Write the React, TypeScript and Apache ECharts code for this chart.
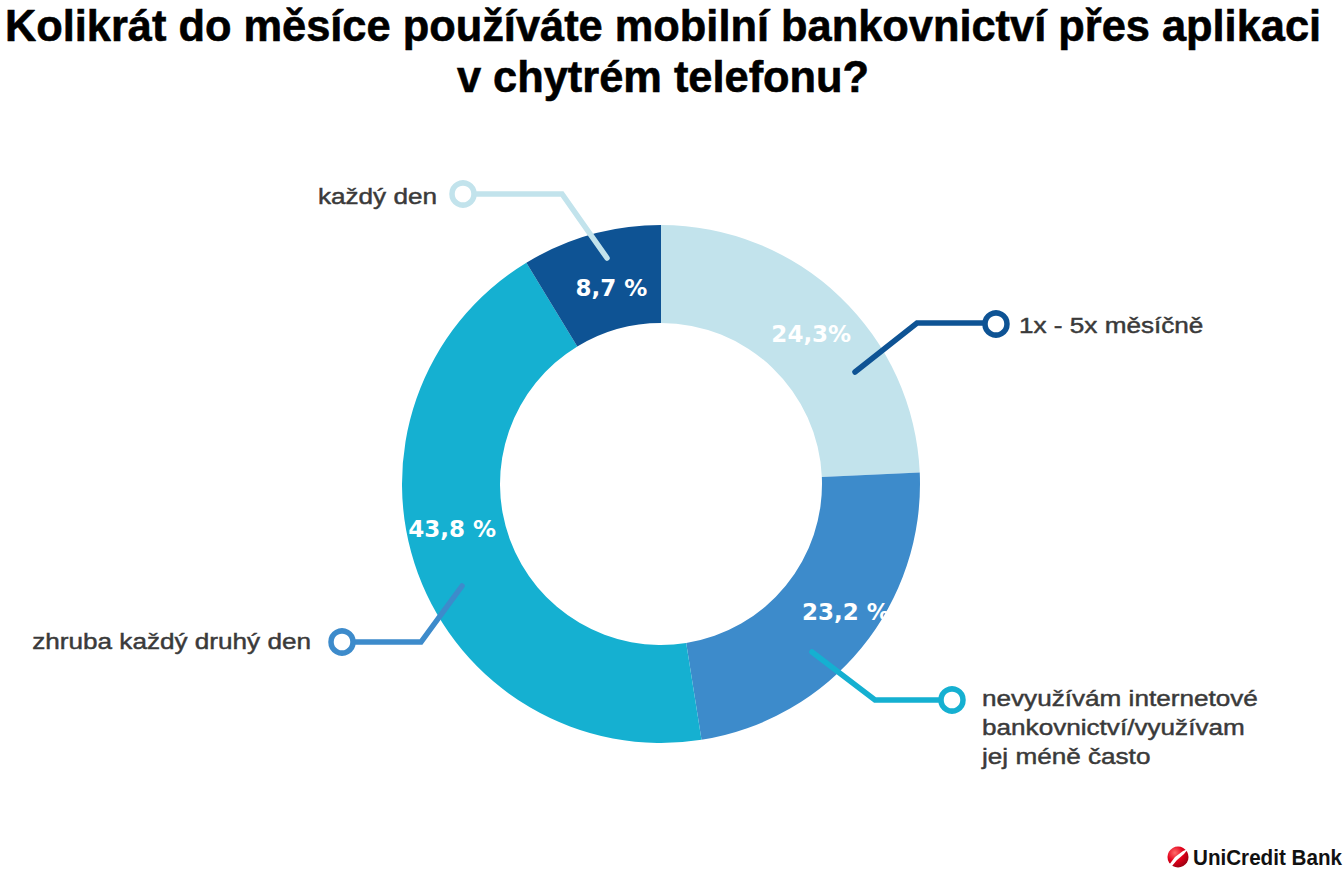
import React, { useEffect, useRef } from "react";
import * as echarts from "echarts";

// ---- data ----
const TITLE_LINES = [
  "Kolikrát do měsíce používáte mobilní bankovnictví přes aplikaci",
  "v chytrém telefonu?",
];
const CATEGORIES = [
  "1x - 5x měsíčně",
  "nevyužívám internetové\nbankovnictví/využívam\njej méně často",
  "zhruba každý druhý den",
  "každý den",
];
const VALUES = [24.3, 23.2, 43.8, 8.7];
const PCT_SUFFIX = ["%", " %", " %", " %"];
const SLICE_COLORS = ["#C2E3EC", "#3D8BCB", "#15B0D1", "#0E5394"];
const CALLOUT_COLORS = ["#0E5394", "#15B0D1", "#3D8BCB", "#C2E3EC"];
const BRAND = "UniCredit Bank";

// ---- layout (annotation geometry, px) ----
const CENTER = [661, 484];
const RADII = [161, 259];
const LABEL_NUDGE = [
  [3, 4],
  [20, -7],
  [-9, -28],
  [8, 9],
];
const CALLOUTS = [
  { pts: [[855, 372], [917, 323], [996, 323]], ring: [996, 324], tx: 1019, ty: 325, align: "left" },
  { pts: [[812, 652], [875, 700], [952, 700]], ring: [952, 700], tx: 982, ty: 727, align: "left" },
  { pts: [[462, 586], [421, 642], [342, 642]], ring: [342, 642], tx: 311, ty: 641, align: "right" },
  { pts: [[607, 258], [562, 194], [463, 194]], ring: [463, 194], tx: 437, ty: 196, align: "right" },
];

function measure(text: string, font: string): number {
  const c = document.createElement("canvas").getContext("2d");
  if (!c) return 1;
  c.font = font;
  return c.measureText(text).width || 1;
}

export default function App() {
  const ref = useRef<HTMLDivElement>(null);

  useEffect(() => {
    if (!ref.current) return;
    const chart = echarts.init(ref.current, null, { renderer: "svg" });

    const titleFont = 'bold 44px "Liberation Sans"';
    const titleScale = 1317 / measure(TITLE_LINES[0], titleFont);
    const calloutFont = '22px "Liberation Sans"';
    const calloutScale = 279 / measure(CATEGORIES[2], calloutFont);
    const brandFont = 'bold 22px "Liberation Sans"';
    const brandScale = 149 / measure(BRAND, brandFont);

    const graphics: any[] = [];
    TITLE_LINES.forEach((t, i) => {
      graphics.push({
        type: "text",
        x: 663,
        y: 25 + i * 51,
        scaleX: titleScale,
        z: 20,
        style: {
          text: t,
          fontFamily: "Liberation Sans",
          fontSize: 44,
          fontWeight: "bold",
          fill: "#000",
          stroke: "#000",
          lineWidth: 0.6,
          align: "center",
          verticalAlign: "middle",
        },
      });
    });

    CALLOUTS.forEach((c, i) => {
      graphics.push({
        type: "polyline",
        z: 10,
        shape: { points: c.pts },
        style: {
          stroke: CALLOUT_COLORS[i],
          lineWidth: 5.5,
          lineCap: "round",
          lineJoin: "miter",
          fill: null,
        },
      });
      graphics.push({
        type: "circle",
        z: 11,
        shape: { cx: c.ring[0], cy: c.ring[1], r: 11 },
        style: { fill: "#fff", stroke: CALLOUT_COLORS[i], lineWidth: 5.5 },
      });
      graphics.push({
        type: "text",
        x: c.tx,
        y: c.ty,
        scaleX: calloutScale,
        z: 12,
        style: {
          text: CATEGORIES[i],
          fontFamily: "Liberation Sans",
          fontSize: 22,
          lineHeight: 29,
          fill: "#3a3a3a",
          stroke: "#3a3a3a",
          lineWidth: 0.45,
          align: c.align,
          verticalAlign: "middle",
        },
      });
    });

    // brand logo
    graphics.push({
      type: "circle",
      z: 20,
      shape: { cx: 1178, cy: 857, r: 10.5 },
      style: {
        fill: {
          type: "radial",
          x: 0.35,
          y: 0.3,
          r: 0.8,
          colorStops: [
            { offset: 0, color: "#ff6b6b" },
            { offset: 0.5, color: "#e2001a" },
            { offset: 1, color: "#8e0010" },
          ],
        },
      },
    });
    graphics.push({
      type: "polygon",
      z: 21,
      shape: {
        points: [
          [1169, 865],
          [1175, 857],
          [1183, 851],
          [1188, 849],
          [1184, 854],
          [1177, 860],
          [1172, 866],
        ],
      },
      style: { fill: "#fff" },
    });
    graphics.push({
      type: "text",
      x: 1193,
      y: 858,
      scaleX: brandScale,
      z: 20,
      style: {
        text: BRAND,
        fontFamily: "Liberation Sans",
        fontSize: 22,
        fontWeight: "bold",
        fill: "#111",
        align: "left",
        verticalAlign: "middle",
      },
    });

    chart.setOption({
      animation: false,
      backgroundColor: "#fff",
      series: [
        {
          type: "pie",
          silent: true,
          center: CENTER,
          radius: RADII,
          startAngle: 90,
          clockwise: true,
          avoidLabelOverlap: false,
          z: 2,
          itemStyle: { borderWidth: 0 },
          label: {
            show: true,
            position: "inside",
            color: "#fff",
            fontFamily: "DejaVu Sans",
            fontWeight: "bold",
            fontSize: 23,
            formatter: (p: any) =>
              String(p.value).replace(".", ",") + PCT_SUFFIX[p.dataIndex],
          },
          labelLine: { show: false },
          labelLayout: (p: any) => ({
            dx: LABEL_NUDGE[p.dataIndex][0],
            dy: LABEL_NUDGE[p.dataIndex][1],
          }),
          data: VALUES.map((v, i) => ({
            name: CATEGORIES[i],
            value: v,
            itemStyle: { color: SLICE_COLORS[i] },
          })),
        },
      ],
      graphic: { elements: graphics },
    });

    return () => chart.dispose();
  }, []);

  return (
    <div
      ref={ref}
      style={{ position: "fixed", left: 0, top: 0, width: 1344, height: 873, background: "#fff" }}
    />
  );
}
